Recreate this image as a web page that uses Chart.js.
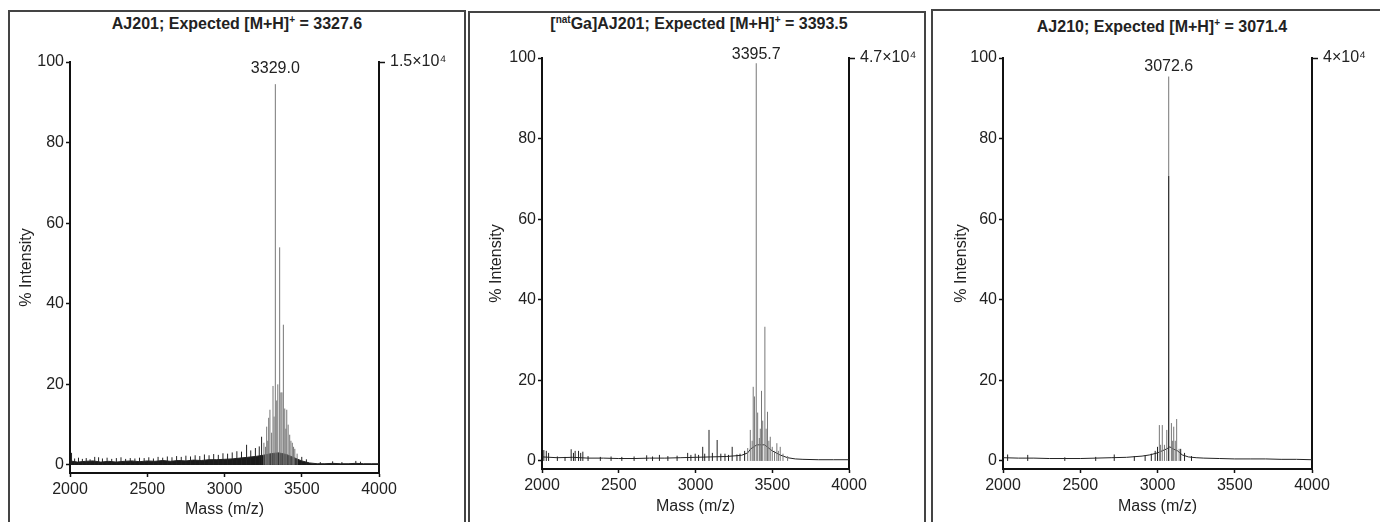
<!DOCTYPE html>
<html>
<head>
<meta charset="utf-8">
<script src="https://cdn.jsdelivr.net/npm/chart.js@4.4.0/dist/chart.umd.min.js"></script>
<style>
  body { margin: 0; width: 1380px; height: 522px; background: #fff; overflow: hidden; position: relative;
         font-family: "Liberation Sans", Arial, sans-serif; }
  .box { position: absolute; border: 2px solid #444; box-sizing: border-box; }
  .titulo { position: absolute; font-weight: bold; font-size: 16px; color: #222; white-space: nowrap;
            transform: translate(-50%, -50%); }
  .titulo sup { font-size: 10px; vertical-align: 6px; line-height: 0; }
  canvas { position: absolute; top: 0; }
</style>
</head>
<body>
<div class="box" style="left:8px;top:10px;width:458px;height:540px"></div>
<div class="box" style="left:468px;top:11px;width:458px;height:540px"></div>
<div class="box" style="left:931px;top:9px;width:470px;height:540px"></div>

<div class="titulo" style="left:237px;top:24px">AJ201; Expected [M+H]<sup>+</sup> = 3327.6</div>
<div class="titulo" style="left:699px;top:24px">[<sup>nat</sup>Ga]AJ201; Expected [M+H]<sup>+</sup> = 3393.5</div>
<div class="titulo" style="left:1162px;top:27px">AJ210; Expected [M+H]<sup>+</sup> = 3071.4</div>

<canvas id="espectro1" width="464" height="522" style="left:0px"></canvas>
<canvas id="espectro2" width="455" height="522" style="left:469px"></canvas>
<canvas id="espectro3" width="448" height="522" style="left:932px"></canvas>

<script>
// eixos
const massTicks = [2000, 2500, 3000, 3500, 4000];
const intensityTicks = [0, 20, 40, 60, 80, 100];

// AJ201
const p1BaseMass = [2000, 2050, 2100, 2150, 2200, 2250, 2300, 2350, 2400, 2450, 2500, 2550, 2600, 2650, 2700, 2750, 2800, 2850, 2900, 2950, 3000, 3050, 3100, 3150, 3200, 3250, 3300, 3350, 3400, 3450, 3500, 3550, 3600, 3650, 3700, 3750, 3800, 3850, 3900, 3950, 4000];
const p1BaseInt = [1.0, 0.7, 0.9, 1.0, 0.7, 0.9, 0.7, 0.9, 1.0, 0.8, 1.0, 0.9, 1.1, 0.9, 1.1, 1.0, 1.2, 1.1, 1.3, 1.3, 1.4, 1.5, 1.7, 1.9, 2.1, 2.4, 2.8, 3.0, 2.6, 1.8, 1.0, 0.5, 0.3, 0.3, 0.4, 0.3, 0.3, 0.4, 0.3, 0.3, 0.3];
const p1NoiseMass = [2010, 2030, 2055, 2080, 2105, 2130, 2160, 2185, 2210, 2240, 2270, 2300, 2330, 2360, 2390, 2420, 2450, 2480, 2510, 2540, 2570, 2600, 2630, 2660, 2690, 2720, 2750, 2780, 2810, 2840, 2870, 2900, 2930, 2960, 2990, 3020, 3050, 3080, 3110, 3143, 3170, 3200, 3225, 3240, 3500, 3530, 3620, 3700, 3760, 3850, 3880];
const p1NoiseInt = [3.0, 1.6, 1.8, 1.5, 1.7, 1.4, 2.0, 1.9, 1.6, 1.8, 1.5, 1.7, 1.9, 1.5, 1.7, 1.6, 1.8, 1.7, 1.9, 1.6, 2.0, 1.8, 2.1, 1.9, 2.2, 2.0, 2.3, 2.1, 2.4, 2.2, 2.6, 2.4, 2.7, 2.5, 2.9, 2.8, 3.1, 3.4, 3.3, 5.0, 3.6, 4.2, 4.6, 7.0, 2.0, 1.4, 0.7, 0.9, 0.7, 1.0, 0.8];
const p1PeakMass = [3255, 3265, 3273, 3280, 3286, 3294, 3305, 3314, 3321, 3329.0, 3338, 3345, 3357, 3365, 3372, 3381, 3390, 3397, 3403, 3412, 3422, 3430, 3439, 3447, 3455, 3470];
const p1PeakInt = [5.5, 4.5, 9.5, 6.0, 11.7, 13.7, 8.0, 19.6, 12.0, 94.5, 16.0, 20.0, 54.0, 18.0, 18.0, 34.8, 14.0, 9.0, 13.7, 10.0, 7.5, 6.0, 5.5, 4.5, 4.0, 2.8];

// [natGa]AJ201
const p2BaseMass = [2000, 2100, 2200, 2300, 2400, 2500, 2600, 2700, 2800, 2900, 3000, 3100, 3200, 3300, 3340, 3360, 3400, 3450, 3500, 3550, 3600, 3650, 3700, 3800, 3900, 4000];
const p2BaseInt = [1.0, 0.8, 0.9, 0.7, 0.7, 0.6, 0.6, 0.7, 0.7, 0.8, 0.9, 1.0, 1.1, 1.4, 2.0, 3.0, 4.0, 4.0, 2.5, 1.5, 0.8, 0.5, 0.4, 0.3, 0.3, 0.3];
const p2NoiseMass = [2012, 2028, 2043, 2100, 2150, 2190, 2205, 2216, 2238, 2252, 2266, 2300, 2380, 2450, 2520, 2600, 2682, 2720, 2765, 2820, 2880, 2949, 2970, 2998, 3020, 3047, 3060, 3088, 3110, 3141, 3165, 3192, 3215, 3239, 3270, 3290, 3320];
const p2NoiseInt = [2.7, 2.5, 2.0, 1.1, 1.0, 2.9, 2.0, 2.5, 2.5, 2.0, 2.3, 1.2, 1.0, 1.1, 1.0, 1.1, 1.4, 1.1, 1.5, 1.2, 1.3, 2.0, 1.5, 1.8, 1.5, 3.5, 1.8, 7.7, 2.0, 5.2, 1.8, 1.8, 1.5, 3.5, 1.6, 1.8, 2.5];
const p2PeakMass = [3340, 3357, 3369, 3376, 3384, 3395.7, 3405, 3416, 3422, 3430, 3438, 3452, 3460, 3469, 3478, 3487, 3500, 3515, 3530, 3540, 3552, 3570, 3600];
const p2PeakInt = [3.2, 7.7, 5.0, 18.4, 16.0, 98.7, 12.0, 5.7, 8.0, 17.4, 10.0, 33.3, 8.0, 12.2, 5.0, 6.0, 3.5, 2.5, 4.4, 2.5, 3.5, 1.8, 1.2];

// AJ210
const p3BaseMass = [2000, 2100, 2200, 2300, 2400, 2500, 2600, 2700, 2800, 2900, 2950, 3000, 3030, 3060, 3080, 3100, 3130, 3160, 3200, 3250, 3300, 3400, 3500, 3600, 3700, 3800, 3900, 4000];
const p3BaseInt = [0.8, 0.7, 0.7, 0.6, 0.6, 0.6, 0.7, 0.8, 0.9, 1.2, 1.5, 2.0, 2.5, 3.0, 3.5, 3.0, 2.5, 1.5, 1.0, 0.8, 0.7, 0.6, 0.5, 0.5, 0.5, 0.4, 0.4, 0.3];
const p3NoiseMass = [2030, 2160, 2400, 2600, 2720, 2850, 2920, 2960, 2985, 3000, 3072.6, 3150, 3175, 3220];
const p3NoiseInt = [1.6, 1.5, 0.9, 1.0, 1.6, 1.2, 1.4, 1.8, 2.5, 3.5, 70.7, 3.0, 2.0, 1.2];
const p3PeakMass = [3012, 3020, 3031, 3045, 3060, 3072.6, 3090, 3098, 3105, 3115, 3124, 3140];
const p3PeakInt = [8.9, 4.0, 8.9, 4.0, 7.7, 95.4, 9.4, 5.0, 8.5, 5.0, 10.4, 3.0];

// escala da direita (contagens absolutas)
const p1Counts = '1.5×10⁴';
const p2Counts = '4.7×10⁴';
const p3Counts = '4×10⁴';

Chart.defaults.font.family = '"Liberation Sans", Arial, sans-serif';
Chart.defaults.font.size = 16;
Chart.defaults.color = '#222';

function linha(masses, values) {
    return masses.map((m, i) => ({ x: m, y: values[i] }));
}

// cada pico vira um traço vertical
function sticks(masses, values) {
    const pts = [];
    masses.forEach((m, i) => {
        pts.push({ x: m, y: 0 }, { x: m, y: values[i] }, { x: m, y: null });
    });
    return pts;
}

// rótulo do pico mais alto
const peakLabel = {
    id: 'peakLabel',
    afterDatasetsDraw(chart, args, opts) {
        const masses = opts.masses, values = opts.values;
        let k = 0;
        values.forEach((v, i) => { if (v > values[k]) k = i; });
        const { ctx, scales } = chart;
        ctx.save();
        ctx.font = '16px "Liberation Sans", Arial, sans-serif';
        ctx.fillStyle = '#222';
        ctx.textAlign = 'center';
        ctx.textBaseline = 'bottom';
        ctx.fillText(masses[k].toFixed(1), scales.x.getPixelForValue(masses[k]),
            scales.y.getPixelForValue(values[k]) - opts.gap);
        ctx.restore();
    }
};

function criarEspectro(id, d, geo) {
    const W = document.getElementById(id).width;
    const axisColor = '#111';
    return new Chart(document.getElementById(id), {
        type: 'line',
        data: {
            datasets: [
                {
                    data: linha(d.baseMass, d.baseInt),
                    borderColor: '#222', borderWidth: 1,
                    backgroundColor: '#1a1a1a', fill: geo.fillBase ? 'origin' : false,
                    pointRadius: 0, order: 3
                },
                {
                    data: sticks(d.peakMass, d.peakInt),
                    borderColor: '#777', borderWidth: 1,
                    pointRadius: 0, spanGaps: false, order: 2
                },
                {
                    data: sticks(d.noiseMass, d.noiseInt),
                    borderColor: '#222', borderWidth: 1,
                    pointRadius: 0, spanGaps: false, order: 1
                }
            ]
        },
        options: {
            responsive: false,
            animation: false,
            events: [],
            layout: { padding: { left: 10, right: 4, top: geo.top, bottom: geo.bottomPad } },
            plugins: {
                legend: { display: false },
                tooltip: { enabled: false },
                peakLabel: { masses: d.peakMass, values: d.peakInt, gap: geo.labelGap }
            },
            scales: {
                x: {
                    type: 'linear', min: 2000, max: 4000,
                    afterBuildTicks: s => { s.ticks = massTicks.map(v => ({ value: v })); },
                    afterFit: s => { s.height = 522 - geo.bottomPad - geo.bottom; },
                    ticks: { maxRotation: 0, autoSkip: false, padding: 3, color: '#222', callback: v => String(v) },
                    grid: { display: true, drawOnChartArea: false, tickLength: 4, tickColor: axisColor, tickWidth: 1.5 },
                    border: { color: axisColor, width: 2 },
                    title: { display: true, text: 'Mass (m/z)', padding: 0, color: '#222' }
                },
                y: {
                    min: -2, max: 100, position: 'left',
                    afterBuildTicks: s => { s.ticks = intensityTicks.map(v => ({ value: v })); },
                    afterFit: s => { s.width = geo.left - 10; },
                    ticks: { padding: 2, color: '#222', callback: v => String(v) },
                    grid: { display: true, drawOnChartArea: false, tickLength: 4, tickColor: axisColor, tickWidth: 1.5 },
                    border: { color: axisColor, width: 2 },
                    title: { display: true, text: '% Intensity', padding: { top: geo.titlePad, bottom: 0 }, color: '#222' }
                },
                yr: {
                    min: -2, max: 100, position: 'right',
                    afterBuildTicks: s => { s.ticks = [{ value: 100 }]; },
                    afterFit: s => { s.width = W - 4 - geo.right; },
                    ticks: { padding: 5, color: '#222', callback: () => d.counts },
                    grid: { display: true, drawOnChartArea: false, tickLength: 6, tickColor: axisColor, tickWidth: 1.5 },
                    border: { color: axisColor, width: 2 }
                }
            }
        },
        plugins: [peakLabel]
    });
}

criarEspectro('espectro1',
    { baseMass: p1BaseMass, baseInt: p1BaseInt, noiseMass: p1NoiseMass, noiseInt: p1NoiseInt,
      peakMass: p1PeakMass, peakInt: p1PeakInt, counts: p1Counts },
    { left: 70, right: 379, top: 62, bottom: 473, bottomPad: 3, titlePad: 7, labelGap: 8, fillBase: true });

criarEspectro('espectro2',
    { baseMass: p2BaseMass, baseInt: p2BaseInt, noiseMass: p2NoiseMass, noiseInt: p2NoiseInt,
      peakMass: p2PeakMass, peakInt: p2PeakInt, counts: p2Counts },
    { left: 73, right: 380, top: 58, bottom: 469, bottomPad: 6, titlePad: 8, labelGap: 1, fillBase: false });

criarEspectro('espectro3',
    { baseMass: p3BaseMass, baseInt: p3BaseInt, noiseMass: p3NoiseMass, noiseInt: p3NoiseInt,
      peakMass: p3PeakMass, peakInt: p3PeakInt, counts: p3Counts },
    { left: 71, right: 380, top: 58, bottom: 469, bottomPad: 6, titlePad: 10, labelGap: 2, fillBase: false });
</script>
</body>
</html>
